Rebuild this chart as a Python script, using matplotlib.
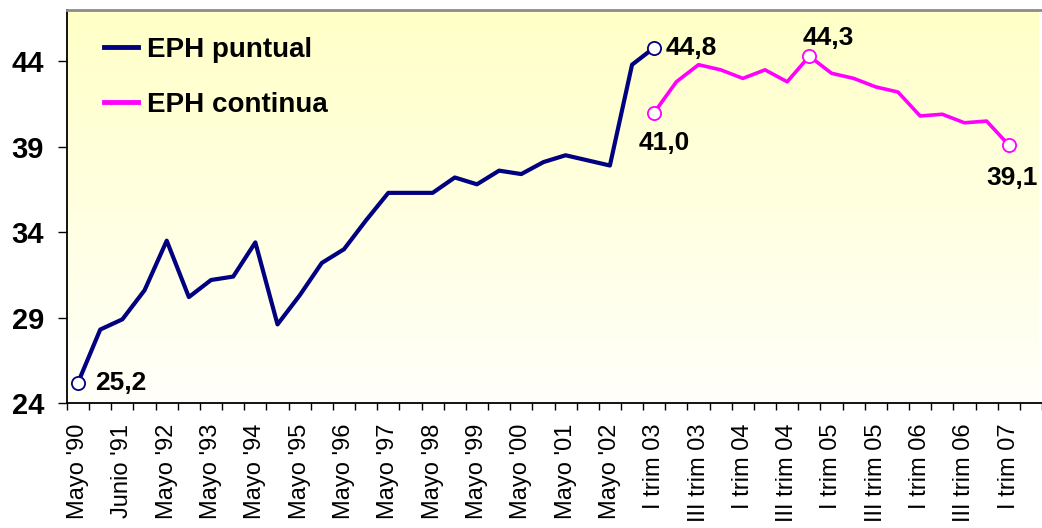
import numpy as np
import matplotlib
matplotlib.use("Agg")
import matplotlib.pyplot as plt
from matplotlib.lines import Line2D

plt.rcParams['font.family'] = ['Liberation Sans', 'DejaVu Sans']

# categories: EPH waves (May / October) then quarters of the continuous EPH
categories = ["Mayo '90", "Oct '90", "Junio '91", "Oct '91", "Mayo '92", "Oct '92",
              "Mayo '93", "Oct '93", "Mayo '94", "Oct '94", "Mayo '95", "Oct '95",
              "Mayo '96", "Oct '96", "Mayo '97", "Oct '97", "Mayo '98", "Oct '98",
              "Mayo '99", "Oct '99", "Mayo '00", "Oct '00", "Mayo '01", "Oct '01",
              "Mayo '02", "Oct '02", "I trim 03", "II trim 03", "III trim 03", "IV trim 03",
              "I trim 04", "II trim 04", "III trim 04", "IV trim 04",
              "I trim 05", "II trim 05", "III trim 05", "IV trim 05",
              "I trim 06", "II trim 06", "III trim 06", "IV trim 06", "I trim 07"]

puntual = [25.2, 28.3, 28.9, 30.6, 33.5, 30.2, 31.2, 31.4, 33.4, 28.6, 30.3, 32.2,
           33.0, 34.7, 36.3, 36.3, 36.3, 37.2, 36.8, 37.6, 37.4, 38.1, 38.5, 38.2,
           37.9, 43.8, 44.8]
continua = [41.0, 42.8, 43.8, 43.5, 43.0, 43.5, 42.8, 44.3, 43.3, 43.0, 42.5, 42.2,
            40.8, 40.9, 40.4, 40.5, 39.1]
continua_start = 26

x_p = np.arange(len(puntual))
x_c = np.arange(len(continua)) + continua_start

fig = plt.figure(figsize=(10.42, 5.28), dpi=100)
ax = fig.add_axes([0.0643, 0.2367, 0.9357, 0.7443])

ax.set_xlim(-0.5, 43.32)
ax.set_ylim(24, 47)

# yellow-to-white gradient background
grad = np.linspace(1.0, 0.0, 256)
cols = np.ones((256, 1, 3))
cols[:, 0, 2] = 0.98 - 0.20 * grad
ax.imshow(cols, extent=[-0.5, 43.32, 24, 47], aspect='auto', origin='upper', zorder=0)

navy = '#000080'
magenta = '#FF00FF'
ax.plot(x_p, puntual, color=navy, lw=3, zorder=3,
        marker='o', markevery=[0, len(puntual) - 1], ms=9.5, mfc='white', mec=navy, mew=1.3)
ax.plot(x_c, continua, color=magenta, lw=2.6, zorder=3,
        marker='o', markevery=[0, 7, len(continua) - 1], ms=9.5, mfc='white', mec=magenta, mew=1.3)

ann = dict(fontsize=19, fontweight='bold', textcoords='offset points', color='black')
ax.annotate('25,2', (x_p[0], puntual[0]), xytext=(12, 0), ha='left', va='center', **ann)
ax.annotate('44,8', (x_p[-1], puntual[-1]), xytext=(8, 0), ha='left', va='center', **ann)
ax.annotate('41,0', (x_c[0], continua[0]), xytext=(7, -22), ha='center', va='center', **ann)
ax.annotate('44,3', (x_c[7], continua[7]), xytext=(14, 13), ha='center', va='center', **ann)
ax.annotate('39,1', (x_c[-1], continua[-1]), xytext=(2, -24), ha='center', va='center', **ann)

# y axis
ax.set_yticks([24, 29, 34, 39, 44])
ax.tick_params(axis='y', direction='out', length=6.5, width=1, pad=10, labelsize=21)
for t in ax.get_yticklabels():
    t.set_fontweight('bold')

# x axis: ticks between categories, labels on every other category
ax.set_xticks(np.arange(-0.5, 44, 1.0))
ax.set_xticklabels([])
ax.tick_params(axis='x', which='major', direction='out', length=5, width=1)
ax.set_xticks(np.arange(0, len(categories), 2), minor=True)
ax.set_xticklabels(categories[::2], minor=True, rotation=90, fontsize=17)
ax.tick_params(axis='x', which='minor', length=0, pad=15)

ax.spines['top'].set_color('#8c8c8c')
ax.spines['top'].set_linewidth(2)
ax.spines['right'].set_visible(False)
ax.spines['left'].set_linewidth(1.3)
ax.spines['bottom'].set_linewidth(1.3)

handles = [Line2D([], [], color=navy, lw=3.5), Line2D([], [], color=magenta, lw=3.5)]
ax.legend(handles, ['EPH puntual', 'EPH continua'], loc='upper left',
          bbox_to_anchor=(0.012, 0.995), frameon=False,
          prop={'size': 20, 'weight': 'bold'}, handlelength=1.25,
          handletextpad=0.3, labelspacing=1.05)

fig.savefig('out.png', dpi=100)
